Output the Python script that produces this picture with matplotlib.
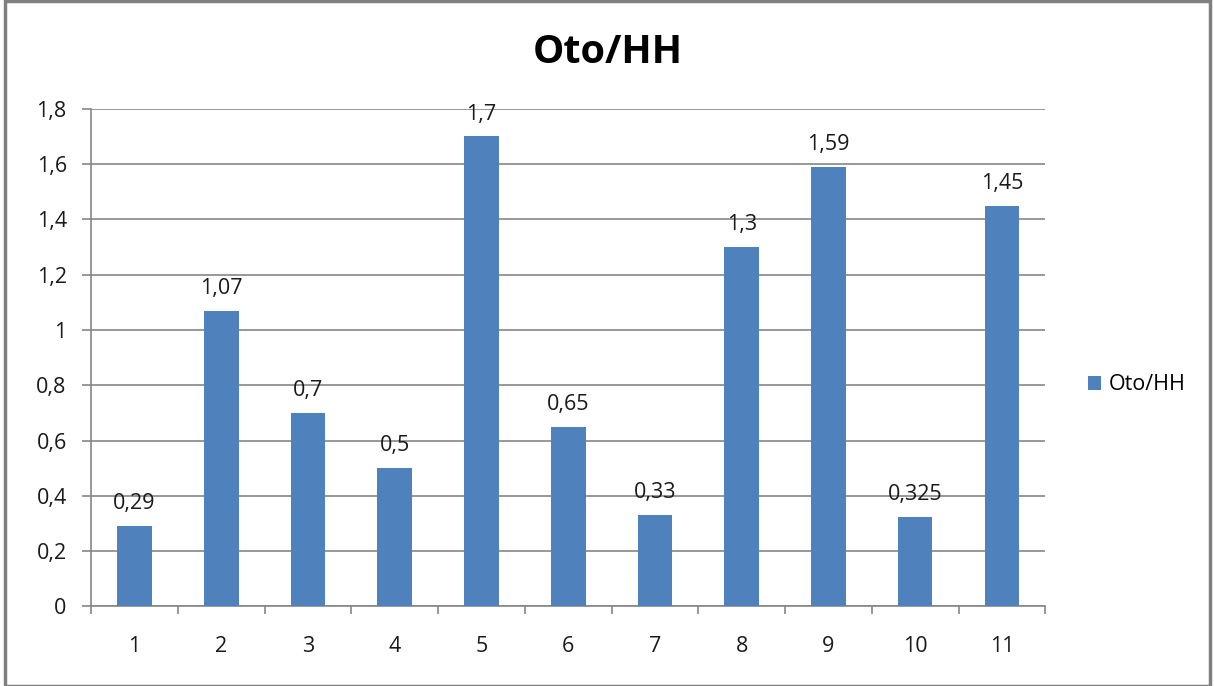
import matplotlib.pyplot as plt
from matplotlib.patches import Rectangle

# data
categories = ['1', '2', '3', '4', '5', '6', '7', '8', '9', '10', '11']
values = [0.29, 1.07, 0.7, 0.5, 1.7, 0.65, 0.33, 1.3, 1.59, 0.325, 1.45]
value_labels = ['0,29', '1,07', '0,7', '0,5', '1,7', '0,65', '0,33', '1,3', '1,59', '0,325', '1,45']
yticks = [0, 0.2, 0.4, 0.6, 0.8, 1.0, 1.2, 1.4, 1.6, 1.8]
ytick_labels = ['0', '0,2', '0,4', '0,6', '0,8', '1', '1,2', '1,4', '1,6', '1,8']

plt.rcParams['font.family'] = ['Open Sans', 'DejaVu Sans']
bar_color = '#4F81BD'
grid_color = '#868686'
text_color = '#1a1a1a'

fig = plt.figure(figsize=(12.14, 6.86), dpi=100)
ax = fig.add_axes([0.075, 0.1159, 0.786, 0.7256])

x = range(len(categories))
ax.bar(x, values, width=0.4, color=bar_color, zorder=3, label='Oto/HH')
for xi, v, lab in zip(x, values, value_labels):
    ax.annotate(lab, (xi, v), xytext=(0, 8.5), textcoords='offset points',
                ha='center', va='bottom', fontsize=15.5, color=text_color)

ax.set_xlim(-0.5, len(categories) - 0.5)
ax.set_ylim(0, 1.8)
ax.set_yticks(yticks)
ax.set_yticklabels(ytick_labels)
ax.set_xticks(list(x))
ax.set_xticklabels(categories)
ax.set_xticks([i - 0.5 for i in range(len(categories) + 1)], minor=True)
ax.tick_params(axis='x', which='major', length=0, pad=21, labelsize=15.5, labelcolor=text_color)
ax.tick_params(axis='x', which='minor', length=6, color=grid_color, width=1.2)
ax.tick_params(axis='y', length=6.5, color=grid_color, width=1.2, pad=11, labelsize=15.5, labelcolor=text_color)

ax.grid(axis='y', color=grid_color, linewidth=1.2, zorder=0)
for side in ['top', 'right']:
    ax.spines[side].set_visible(False)
for side in ['left', 'bottom']:
    ax.spines[side].set_color(grid_color)
    ax.spines[side].set_linewidth(1.2)

fig.text(0.501, 0.908, 'Oto/HH', ha='center', va='baseline', fontsize=28.5, fontweight='bold', color='black')

leg = ax.legend(loc='center left', bbox_to_anchor=(1.025, 0.445), frameon=False,
                fontsize=15.5, handlelength=0.6, handleheight=0.6, handletextpad=0.35)

# outer chart border
fig.patches.append(Rectangle((0.004, 0.0), 0.993, 0.998, transform=fig.transFigure,
                             fill=False, edgecolor='#7f7f7f', linewidth=2.5))

fig.savefig('out.png', dpi=100)
